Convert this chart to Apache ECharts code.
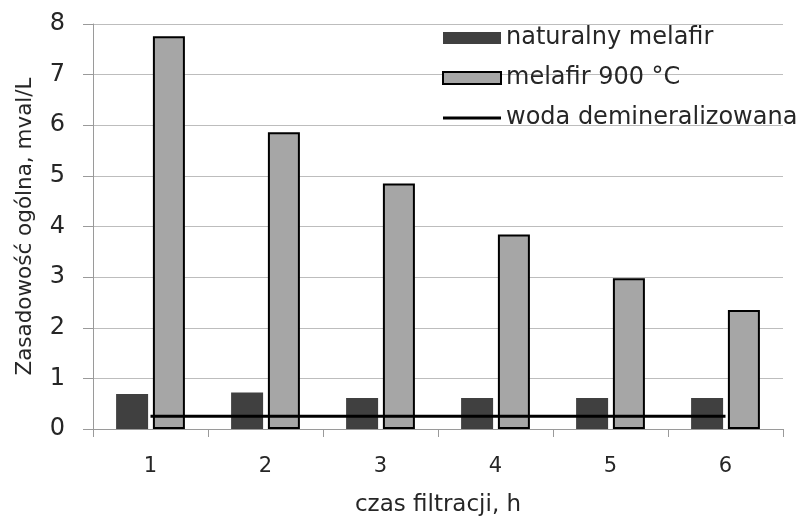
<!DOCTYPE html>
<html>
<head>
<meta charset="utf-8">
<script src="https://cdn.jsdelivr.net/npm/echarts@6/dist/echarts.min.js"></script>
<style>html,body{margin:0;padding:0;background:#fff}#c{width:807px;height:516px}</style>
</head>
<body>
<div id="c"></div>
<script>
const categories = ['1', '2', '3', '4', '5', '6'];
const naturalny = [0.69, 0.72, 0.61, 0.61, 0.61, 0.61];
const melafir900 = [7.76, 5.86, 4.85, 3.84, 2.98, 2.35];
const woda = [0.25, 0.25, 0.25, 0.25, 0.25, 0.25];
const yTicks = [0, 1, 2, 3, 4, 5, 6, 7, 8];

const font = '"DejaVu Sans", sans-serif';
const txt = '#262626';
const chart = echarts.init(document.getElementById('c'), null, {renderer: 'canvas'});
chart.setOption({
  animation: false,
  backgroundColor: '#fff',
  grid: {left: 93, right: 24, top: 24, bottom: 87, containLabel: false, outerBoundsMode: 'none'},
  legend: {
    orient: 'vertical',
    left: 437,
    top: 21,
    itemWidth: 58,
    itemHeight: 12,
    itemGap: 16,
    itemTextGap: 8,
    textStyle: {fontFamily: font, fontSize: 24, color: txt},
    data: [
      {name: 'naturalny melafir', icon: 'rect'},
      {name: 'melafir 900 °C', icon: 'rect'},
      {name: 'woda demineralizowana', icon: 'path://M0,0h58v3h-58z', itemStyle: {color: '#000', borderWidth: 0}}
    ]
  },
  xAxis: {
    type: 'category',
    data: categories,
    name: 'czas filtracji, h',
    nameLocation: 'middle',
    nameGap: 65,
    nameTextStyle: {fontFamily: font, fontSize: 23, color: txt},
    axisLine: {lineStyle: {color: '#9a9a9a', width: 1}},
    axisTick: {show: true, length: 8, lineStyle: {color: '#9a9a9a'}},
    axisLabel: {fontFamily: font, fontSize: 21, color: txt, margin: 27}
  },
  yAxis: {
    type: 'value',
    min: 0, max: 8, interval: 1,
    name: 'Zasadowość ogólna, mval/L',
    nameLocation: 'middle',
    nameGap: 57,
    nameTextStyle: {fontFamily: font, fontSize: 21.5, color: txt},
    axisLine: {show: true, lineStyle: {color: '#9a9a9a', width: 1}},
    axisTick: {show: true, length: 10, lineStyle: {color: '#9a9a9a'}},
    splitLine: {lineStyle: {color: '#bdbdbd', width: 1}},
    axisLabel: {fontFamily: font, fontSize: 24, color: txt, margin: 28,
      formatter: v => yTicks.includes(v) ? String(v) : ''}
  },
  series: [
    {name: 'naturalny melafir', type: 'bar', data: naturalny, barWidth: 32, barGap: '15%',
      itemStyle: {color: '#404040'}},
    {name: 'melafir 900 °C', type: 'bar', data: melafir900, barWidth: 32,
      itemStyle: {color: '#a6a6a6', borderColor: '#000', borderWidth: 2}},
    {name: 'woda demineralizowana', type: 'line', data: woda, symbol: 'none', showSymbol: false, z: 5,
      lineStyle: {color: '#000', width: 3}, itemStyle: {color: '#000'}}
  ]
});
</script>
</body>
</html>
